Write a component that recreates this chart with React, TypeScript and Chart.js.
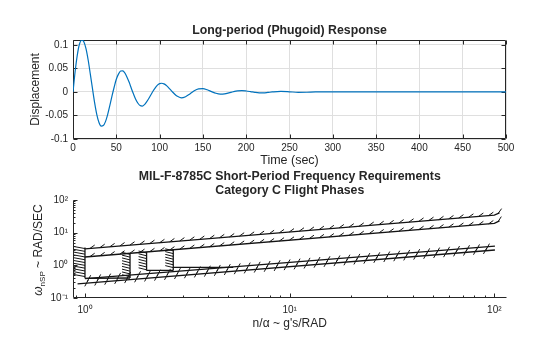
import React, { useEffect, useRef } from 'react';
import { Chart, registerables } from 'chart.js';

Chart.register(...registerables);

const FONT = '"Liberation Sans", Arial, Helvetica, sans-serif';
const AXIS_COLOR = '#262626';

// ---------- Top chart: phugoid response ----------
const timeSec = [
  0, 2.5, 5, 7.5, 10, 12.5, 15, 17.5, 20, 22.5, 25, 27.5, 30, 32.5, 35, 37.5, 40, 42.5, 45, 47.5,
  50, 52.5, 55, 57.5, 60, 62.5, 65, 67.5, 70, 72.5, 75, 77.5, 80, 82.5, 85, 87.5, 90, 92.5, 95, 97.5,
  100, 102.5, 105, 107.5, 110, 112.5, 115, 117.5, 120, 125, 130, 135, 140, 145, 150, 155, 160, 165,
  170, 175, 180, 185, 190, 195, 200, 205, 210, 215, 220, 225, 230, 240, 250, 260, 270, 280, 300, 350,
  400, 450, 500,
];
const displacement = [
  0, 0.044, 0.079, 0.102, 0.11, 0.107, 0.092, 0.068, 0.038, 0.007, -0.023, -0.048, -0.065, -0.0725,
  -0.0715, -0.063, -0.048, -0.029, -0.009, 0.01,
  0.027, 0.038, 0.0445, 0.045, 0.04, 0.031, 0.02, 0.007, -0.005, -0.016, -0.024, -0.029, -0.03, -0.027,
  -0.021, -0.014, -0.006, 0.002, 0.0088, 0.0145,
  0.0178, 0.0185, 0.0172, 0.0142, 0.0098, 0.005, 0, -0.0048, -0.0088, -0.0125, -0.01, -0.0042, 0.0025,
  0.0066, 0.0072, 0.0047, 0.0008, -0.0028,
  -0.0046, -0.0041, -0.002, 0.0005, 0.0024, 0.0029, 0.0021, 0.0007, -0.0009, -0.0018, -0.0018, -0.001,
  0, 0.0012, 0.0004, -0.0007, -0.0006, 0, 0, 0,
  0, 0, 0,
];
const timeTicks = [0, 50, 100, 150, 200, 250, 300, 350, 400, 450, 500];
const dispTicks = [-0.1, -0.05, 0, 0.05, 0.1];
const dispTickLabels = ['-0.1', '-0.05', '0', '0.05', '0.1'];

// ---------- Bottom chart: MIL-F-8785C ----------
const nAlphaMajor = [1, 10, 100];
const nAlphaLabels = ['10⁰', '10¹', '10²'];
const nAlphaMinor = [0.9, 2, 3, 4, 5, 6, 7, 8, 9, 20, 30, 40, 50, 60, 70, 80, 90];
const omegaMajor = [0.1, 1, 10, 100];
const omegaLabels = ['10⁻¹', '10⁰', '10¹', '10²'];
const omegaMinor = [0.2, 0.3, 0.4, 0.5, 0.6, 0.7, 0.8, 0.9, 2, 3, 4, 5, 6, 7, 8, 9, 20, 30, 40, 50, 60, 70, 80, 90];

const lvl2UpperX = [1, 100, 106];
const lvl2UpperY = [3.2, 34.5, 40.5];
const lvl1UpperX = [1, 100, 106];
const lvl1UpperY = [1.8, 19.2, 23];
const lvl1LowerX = [1, 100.7];
const lvl1LowerY = [0.39, 3.85];
const lvl2LowerX = [0.92, 100.7];
const lvl2LowerY = [0.27, 2.95];
const boxBottomX = [1, 1.66];
const boxBottomY = [0.4, 0.41];
const minNA1X = [1, 1];
const minNA1Y = [3.5, 0.4];
const minNA2X = [1.66, 1.66];
const minNA2Y = [2.33, 0.41];
const minNA3X = [2.0, 2.0];
const minNA3Y = [2.56, 0.7];
const minW3X = [2.0, 2.7];
const minW3Y = [0.7, 0.7];
const minNA4X = [2.7, 2.7];
const minNA4Y = [2.99, 0.7];
const minW4X = [2.7, 5.3];
const minW4Y = [0.87, 0.87];

const pts = (xs: number[], ys: number[]) => xs.map((x, i) => ({ x, y: ys[i] }));

// ---------- plugins ----------
const mlAxesPlugin = {
  id: 'mlAxes',
  beforeDatasetsDraw(chart: any, _a: any, o: any) {
    const { ctx, chartArea: ca, scales } = chart;
    const xs = scales.x;
    const ys = scales.y;
    const L = Math.round(ca.left) + 0.5;
    const R = Math.round(ca.right) - 0.5;
    const T = Math.round(ca.top) + 0.5;
    const B = Math.round(ca.bottom) - 0.5;
    ctx.save();
    ctx.strokeStyle = o.color;
    ctx.lineWidth = 1;
    ctx.beginPath();
    if (o.box) {
      ctx.rect(L, T, R - L, B - T);
    } else {
      ctx.moveTo(L, T);
      ctx.lineTo(L, B);
      ctx.lineTo(R, B);
    }
    const xt = (vals: number[], len: number) => {
      vals.forEach((v) => {
        const p = Math.round(xs.getPixelForValue(v)) + 0.5;
        ctx.moveTo(p, B);
        ctx.lineTo(p, B - len);
        if (o.box) {
          ctx.moveTo(p, T);
          ctx.lineTo(p, T + len);
        }
      });
    };
    const yt = (vals: number[], len: number) => {
      vals.forEach((v) => {
        const p = Math.round(ys.getPixelForValue(v)) + 0.5;
        ctx.moveTo(L, p);
        ctx.lineTo(L + len, p);
        if (o.box) {
          ctx.moveTo(R, p);
          ctx.lineTo(R - len, p);
        }
      });
    };
    xt(o.xMajor, o.majorLen);
    yt(o.yMajor, o.majorLen);
    if (o.xMinor) xt(o.xMinor, o.minorLen);
    if (o.yMinor) yt(o.yMinor, o.minorLen);
    ctx.stroke();
    ctx.restore();
  },
};

const hatchPlugin = {
  id: 'hatch',
  afterDatasetsDraw(chart: any) {
    const ctx = chart.ctx;
    chart.data.datasets.forEach((ds: any, i: number) => {
      const h = ds.hatch;
      if (!h) return;
      const meta = chart.getDatasetMeta(i);
      const p = meta.data.map((e: any) => ({ x: e.x, y: e.y }));
      ctx.save();
      ctx.strokeStyle = ds.borderColor;
      ctx.lineWidth = h.width || 1;
      ctx.beginPath();
      let acc = h.offset || 0;
      for (let s = 0; s < p.length - 1; s++) {
        const a = p[s];
        const b = p[s + 1];
        const dx = b.x - a.x;
        const dy = b.y - a.y;
        const len = Math.hypot(dx, dy);
        if (len === 0) continue;
        const ux = dx / len;
        const uy = dy / len;
        const nx = uy;
        const ny = -ux;
        let d = acc;
        while (d <= len) {
          const px = a.x + ux * d;
          const py = a.y + uy * d;
          if (h.kind === 'above') {
            ctx.moveTo(px - ux * 1, py - uy * 1);
            ctx.lineTo(px + ux * 4 + nx * 3, py + uy * 4 + ny * 3);
          } else if (h.kind === 'cross') {
            ctx.moveTo(px - ux * 2 - nx * 3, py - uy * 2 - ny * 3);
            ctx.lineTo(px + ux * 2 + nx * 3, py + uy * 2 + ny * 3);
          } else if (h.kind === 'left') {
            ctx.moveTo(px - h.len, py - h.rise);
            ctx.lineTo(px, py);
          }
          d += h.spacing;
        }
        acc = d - len;
      }
      ctx.stroke();
      ctx.restore();
    });
  },
};

const omegaTitlePlugin = {
  id: 'omegaTitle',
  afterDraw(chart: any, _a: any, o: any) {
    if (!o || !o.display) return;
    const ctx = chart.ctx;
    const parts = [
      { text: 'ω', font: `italic 12px ${FONT}`, dy: 0 },
      { text: 'nSP', font: `8px ${FONT}`, dy: 3 },
      { text: ' ~ RAD/SEC', font: `12px ${FONT}`, dy: 0 },
    ];
    ctx.save();
    ctx.fillStyle = o.color;
    ctx.textBaseline = 'alphabetic';
    ctx.textAlign = 'left';
    let total = 0;
    const widths = parts.map((pt) => {
      ctx.font = pt.font;
      const w = ctx.measureText(pt.text).width;
      total += w;
      return w;
    });
    ctx.translate(o.x, o.y);
    ctx.rotate(-Math.PI / 2);
    let cx = -total / 2;
    parts.forEach((pt, i) => {
      ctx.font = pt.font;
      ctx.fillText(pt.text, cx, 4 + pt.dy);
      cx += widths[i];
    });
    ctx.restore();
  },
};

// ---------- components ----------
function TopChart() {
  const ref = useRef<HTMLCanvasElement>(null);
  useEffect(() => {
    const chart = new Chart(ref.current as HTMLCanvasElement, {
      type: 'line',
      data: {
        datasets: [
          {
            data: pts(timeSec, displacement),
            borderColor: '#0072BD',
            borderWidth: 1.2,
            pointRadius: 0,
            cubicInterpolationMode: 'monotone',
            fill: false,
          } as any,
        ],
      },
      options: {
        animation: false,
        responsive: false,
        devicePixelRatio: 1,
        layout: { padding: { left: 0, right: 54, top: 0, bottom: 0 } },
        plugins: {
          legend: { display: false },
          tooltip: { enabled: false },
          title: {
            display: true,
            fullSize: false,
            text: 'Long-period (Phugoid) Response',
            color: AXIS_COLOR,
            font: { size: 12.3, weight: 'bold', family: FONT, lineHeight: 1.2 },
            padding: { top: 23, bottom: 2.2 },
          },
          mlAxes: {
            box: true,
            color: AXIS_COLOR,
            xMajor: timeTicks,
            yMajor: dispTicks,
            majorLen: 4,
            minorLen: 2,
          },
        } as any,
        scales: {
          x: {
            type: 'linear',
            min: 0,
            max: 500,
            afterBuildTicks: (a: any) => {
              a.ticks = timeTicks.map((v) => ({ value: v }));
            },
            afterFit: (s: any) => {
              s.height = 29;
            },
            grid: { color: '#dfdfdf', drawTicks: false, lineWidth: 1 },
            border: { display: false },
            ticks: {
              color: AXIS_COLOR,
              font: { size: 10, family: FONT },
              padding: 3,
              maxRotation: 0,
              autoSkip: false,
              callback: (_v: any, i: number) => String(timeTicks[i]),
            },
            title: {
              display: true,
              text: 'Time (sec)',
              color: AXIS_COLOR,
              font: { size: 12.5, family: FONT },
              padding: { top: 0, bottom: 0 },
            },
          },
          y: {
            type: 'linear',
            min: -0.1,
            max: 0.1106,
            afterBuildTicks: (a: any) => {
              a.ticks = dispTicks.map((v) => ({ value: v }));
            },
            afterFit: (s: any) => {
              s.width = 73;
            },
            grid: { color: '#dfdfdf', drawTicks: false, lineWidth: 1 },
            border: { display: false },
            ticks: {
              color: AXIS_COLOR,
              font: { size: 10, family: FONT },
              padding: 5,
              autoSkip: false,
              callback: (_v: any, i: number) => dispTickLabels[i],
            },
            title: {
              display: true,
              text: 'Displacement',
              color: AXIS_COLOR,
              font: { size: 12, family: FONT },
              padding: { top: 28, bottom: 0 },
            },
          },
        } as any,
      },
      plugins: [mlAxesPlugin as any],
    });
    return () => chart.destroy();
  }, []);
  return (
    <canvas
      ref={ref}
      width={560}
      height={168}
      style={{ position: 'absolute', left: 0, top: 0, width: 560, height: 168 }}
    />
  );
}

function BottomChart() {
  const ref = useRef<HTMLCanvasElement>(null);
  useEffect(() => {
    const line = (xs: number[], ys: number[], hatch?: any) =>
      ({
        data: pts(xs, ys),
        borderColor: '#141414',
        borderWidth: 1.3,
        pointRadius: 0,
        fill: false,
        tension: 0,
        hatch,
      }) as any;
    const chart = new Chart(ref.current as HTMLCanvasElement, {
      type: 'line',
      data: {
        datasets: [
          line(lvl2UpperX, lvl2UpperY, { kind: 'above', spacing: 10, offset: 6 }),
          line(lvl1UpperX, lvl1UpperY, { kind: 'above', spacing: 10, offset: 6 }),
          line(lvl1LowerX, lvl1LowerY, { kind: 'cross', spacing: 10, offset: 4 }),
          line(lvl2LowerX, lvl2LowerY, { kind: 'cross', spacing: 10, offset: 9 }),
          line(boxBottomX, boxBottomY),
          line(minNA1X, minNA1Y, { kind: 'left', spacing: 2.8, offset: 1, len: 11, rise: 2 }),
          line(minNA2X, minNA2Y, { kind: 'left', spacing: 2.8, offset: 1, len: 8, rise: 2 }),
          line(minNA3X, minNA3Y, { kind: 'left', spacing: 2.8, offset: 1, len: 8, rise: 2 }),
          line(minW3X, minW3Y),
          line(minNA4X, minNA4Y, { kind: 'left', spacing: 2.8, offset: 1, len: 8, rise: 2 }),
          line(minW4X, minW4Y),
        ],
      },
      options: {
        animation: false,
        responsive: false,
        devicePixelRatio: 1,
        layout: { padding: { left: 0, right: 53.5, top: 0, bottom: 0 } },
        plugins: {
          legend: { display: false },
          tooltip: { enabled: false },
          title: {
            display: true,
            fullSize: false,
            text: ['MIL-F-8785C Short-Period Frequency Requirements', 'Category C Flight Phases'],
            color: AXIS_COLOR,
            font: { size: 12.3, weight: 'bold', family: FONT, lineHeight: 14 / 12.3 },
            padding: { top: 2, bottom: 2 },
          },
          mlAxes: {
            box: false,
            color: AXIS_COLOR,
            xMajor: nAlphaMajor,
            xMinor: nAlphaMinor,
            yMajor: omegaMajor,
            yMinor: omegaMinor,
            majorLen: 4,
            minorLen: 2,
          },
          omegaTitle: { display: true, x: 38, y: 82, color: AXIS_COLOR },
        } as any,
        scales: {
          x: {
            type: 'logarithmic',
            min: 0.874,
            max: 114.7,
            afterBuildTicks: (a: any) => {
              a.ticks = nAlphaMajor.map((v) => ({ value: v, major: true }));
            },
            afterFit: (s: any) => {
              s.height = 39;
            },
            grid: { display: false, drawTicks: false },
            border: { display: false },
            ticks: {
              color: AXIS_COLOR,
              font: { size: 10, family: FONT },
              padding: 6,
              maxRotation: 0,
              autoSkip: false,
              callback: (_v: any, i: number) => nAlphaLabels[i],
            },
            title: {
              display: true,
              text: "n/α ~ g's/RAD",
              color: AXIS_COLOR,
              font: { size: 12, family: FONT },
              padding: { top: 0, bottom: 6.5 },
            },
          },
          y: {
            type: 'logarithmic',
            min: 0.1,
            max: 100,
            afterBuildTicks: (a: any) => {
              a.ticks = omegaMajor.map((v) => ({ value: v, major: true }));
            },
            afterFit: (s: any) => {
              s.width = 73;
            },
            grid: { display: false, drawTicks: false },
            border: { display: false },
            ticks: {
              color: AXIS_COLOR,
              font: { size: 10, family: FONT },
              padding: 5,
              autoSkip: false,
              callback: (_v: any, i: number) => omegaLabels[i],
            },
            title: { display: false },
          },
        } as any,
      },
      plugins: [mlAxesPlugin as any, hatchPlugin as any, omegaTitlePlugin as any],
    });
    return () => chart.destroy();
  }, []);
  return (
    <canvas
      ref={ref}
      width={560}
      height={169}
      style={{ position: 'absolute', left: 0, top: 168, width: 560, height: 169 }}
    />
  );
}

export default function App() {
  return (
    <div
      style={{
        position: 'fixed',
        left: 0,
        top: 0,
        width: 560,
        height: 337,
        background: '#ffffff',
        overflow: 'hidden',
      }}
    >
      <TopChart />
      <BottomChart />
    </div>
  );
}
